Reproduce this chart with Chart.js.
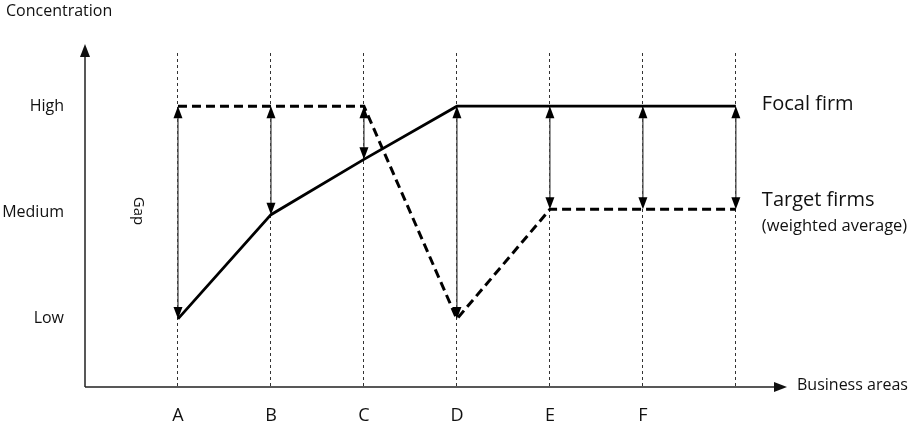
<!DOCTYPE html>
<html>
<head>
<meta charset="utf-8">
<script src="https://cdn.jsdelivr.net/npm/chart.js@4"></script>
<style>
  html, body { margin: 0; padding: 0; background: #fff; }
  #wrap { width: 910px; height: 425px; }
</style>
</head>
<body>
<div id="wrap"><canvas id="gapChart"></canvas></div>
<script>
var categories = ['A', 'B', 'C', 'D', 'E', 'F', ''];
var levelLabels = ['Low', 'Medium', 'High'];
var focalFirm = [1, 1.98, 2.5, 3, 3, 3, 3];
var targetFirms = [3, 3, 3, 1, 2.03, 2.03, 2.03];

var FONT = '"Open Sans", sans-serif';

function toPoints(values) {
  return values.map(function (v, i) { return { x: i + 1, y: v }; });
}

function drawHead(ctx, x, y, dir, w, h) {
  // dir -1 = pointing up, 1 = pointing down
  ctx.beginPath();
  ctx.moveTo(x, y);
  ctx.lineTo(x - w / 2, y - dir * h);
  ctx.lineTo(x + w / 2, y - dir * h);
  ctx.closePath();
  ctx.fill();
}

// axes with arrow heads and the free text labels
var decorPlugin = {
  id: 'decor',
  beforeDatasetsDraw: function (chart) {
    var ctx = chart.ctx, a = chart.chartArea;
    ctx.save();
    ctx.strokeStyle = '#222';
    ctx.fillStyle = '#111';
    ctx.lineWidth = 1.5;
    ctx.beginPath();
    ctx.moveTo(a.left, a.bottom);
    ctx.lineTo(a.left, 54);
    ctx.moveTo(a.left, a.bottom);
    ctx.lineTo(a.right - 8, a.bottom);
    ctx.stroke();
    // y arrow
    ctx.beginPath();
    ctx.moveTo(a.left, 44);
    ctx.lineTo(a.left - 5, 57);
    ctx.lineTo(a.left + 5, 57);
    ctx.closePath();
    ctx.fill();
    // x arrow
    ctx.beginPath();
    ctx.moveTo(a.right, a.bottom);
    ctx.lineTo(a.right - 13, a.bottom - 5);
    ctx.lineTo(a.right - 13, a.bottom + 5);
    ctx.closePath();
    ctx.fill();
    ctx.restore();
  },
  afterDatasetsDraw: function (chart) {
    var ctx = chart.ctx, a = chart.chartArea;
    var xs = chart.scales.x, ys = chart.scales.y;
    ctx.save();
    // gap arrows
    for (var i = 0; i < categories.length; i++) {
      var px = xs.getPixelForValue(i + 1);
      var top = ys.getPixelForValue(Math.max(focalFirm[i], targetFirms[i]));
      var bot = ys.getPixelForValue(Math.min(focalFirm[i], targetFirms[i]));
      ctx.strokeStyle = '#444';
      ctx.lineWidth = 1.3;
      ctx.beginPath();
      ctx.moveTo(px, top + 8);
      ctx.lineTo(px, bot - 8);
      ctx.stroke();
      ctx.fillStyle = '#000';
      drawHead(ctx, px, top, -1, 9, 12);
      drawHead(ctx, px, bot, 1, 9, 12);
    }
    ctx.fillStyle = '#111';
    ctx.textBaseline = 'middle';
    ctx.textAlign = 'left';
    ctx.font = '16px ' + FONT;
    ctx.fillText('Concentration', 6, 11);
    ctx.fillText('Business areas', a.right + 10, a.bottom - 2);

    var lastX = xs.getPixelForValue(categories.length);
    ctx.font = '20px ' + FONT;
    ctx.fillText('Focal firm', lastX + 26, ys.getPixelForValue(focalFirm[6]) - 2);
    ctx.fillText('Target firms', lastX + 26, ys.getPixelForValue(targetFirms[6]) - 9);
    ctx.font = '16.5px ' + FONT;
    ctx.fillText('(weighted average)', lastX + 26, ys.getPixelForValue(targetFirms[6]) + 17);

    // "Gap" rotated
    ctx.font = '15px ' + FONT;
    ctx.translate(138, 211);
    ctx.rotate(Math.PI / 2);
    ctx.textAlign = 'center';
    ctx.fillText('Gap', 0, 0);
    ctx.restore();
  }
};

var ctx = document.getElementById('gapChart').getContext('2d');
var myChart = new Chart(ctx, {
  type: 'line',
  data: {
    datasets: [{
      label: 'Focal firm',
      data: toPoints(focalFirm),
      borderColor: '#000',
      borderWidth: 2.8,
      pointRadius: 0,
      tension: 0
    }, {
      label: 'Target firms',
      data: toPoints(targetFirms),
      borderColor: '#000',
      borderWidth: 3,
      borderDash: [9, 5],
      pointRadius: 0,
      tension: 0
    }]
  },
  options: {
    responsive: true,
    maintainAspectRatio: false,
    animation: false,
    layout: { padding: { left: 0, top: 53, right: 123, bottom: 0 } },
    plugins: { legend: { display: false }, tooltip: { enabled: false } },
    scales: {
      x: {
        type: 'linear',
        min: 0,
        max: 7.55,
        afterBuildTicks: function (scale) {
          scale.ticks = categories.map(function (c, i) { return { value: i + 1 }; });
        },
        afterFit: function (scale) { scale.height = 38; },
        ticks: {
          padding: 18,
          color: '#111',
          font: { family: FONT, size: 18 },
          callback: function (v) { return categories[v - 1]; }
        },
        grid: { color: '#333', lineWidth: 1, drawTicks: false },
        border: { display: false, dash: [3, 3] }
      },
      y: {
        min: 0.36,
        max: 3.5,
        afterBuildTicks: function (scale) {
          scale.ticks = levelLabels.map(function (l, i) { return { value: i + 1 }; });
        },
        afterFit: function (scale) { scale.width = 85; },
        ticks: {
          padding: 13,
          color: '#111',
          font: { family: FONT, size: 16 },
          callback: function (v) { return levelLabels[v - 1]; }
        },
        grid: { display: false },
        border: { display: false }
      }
    }
  },
  plugins: [decorPlugin]
});
</script>
</body>
</html>
